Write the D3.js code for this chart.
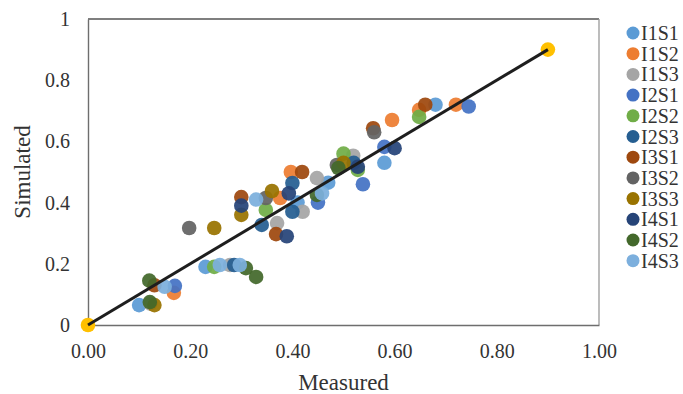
<!DOCTYPE html>
<html><head><meta charset="utf-8">
<script src="https://cdn.jsdelivr.net/npm/d3@7"></script>
<style>
html,body{margin:0;padding:0;background:#fff;}
svg{display:block;font-family:"Liberation Serif","Times New Roman",serif;}
</style></head>
<body>
<svg id="chart" width="683" height="394"></svg>
<script>
// ---- data ----
const seriesNames = ["I1S1","I1S2","I1S3","I2S1","I2S2","I2S3","I3S1","I3S2","I3S3","I4S1","I4S2","I4S3"];
const I1S1 = [[0.10,0.065],[0.23,0.19],[0.41,0.40],[0.47,0.465],[0.58,0.53],[0.68,0.72]];
const I1S2 = [[0.168,0.105],[0.376,0.415],[0.397,0.50],[0.595,0.67],[0.648,0.703],[0.72,0.72]];
const I1S3 = [[0.122,0.07],[0.278,0.196],[0.37,0.333],[0.42,0.37],[0.448,0.48],[0.519,0.553]];
const I2S1 = [[0.17,0.128],[0.45,0.40],[0.538,0.46],[0.58,0.582],[0.745,0.714]];
const I2S2 = [[0.247,0.19],[0.348,0.376],[0.50,0.56],[0.528,0.507],[0.648,0.68]];
const I2S3 = [[0.286,0.196],[0.34,0.327],[0.40,0.37],[0.40,0.464],[0.52,0.53]];
const I3S1 = [[0.13,0.13],[0.30,0.418],[0.368,0.297],[0.419,0.50],[0.558,0.643],[0.66,0.72]];
const I3S2 = [[0.198,0.317],[0.348,0.415],[0.487,0.523],[0.56,0.63]];
const I3S3 = [[0.13,0.065],[0.247,0.317],[0.30,0.36],[0.36,0.438],[0.50,0.53]];
const I4S1 = [[0.30,0.39],[0.389,0.29],[0.393,0.43],[0.528,0.517],[0.60,0.578]];
const I4S2 = [[0.12,0.145],[0.121,0.075],[0.309,0.186],[0.329,0.157],[0.448,0.425],[0.49,0.513]];
const I4S3 = [[0.15,0.125],[0.258,0.196],[0.297,0.196],[0.329,0.41],[0.458,0.43]];
const seriesValues = [I1S1,I1S2,I1S3,I2S1,I2S2,I2S3,I3S1,I3S2,I3S3,I4S1,I4S2,I4S3];
const oneToOne = [[0,0],[0.9,0.9]];
const xTicks = [0,0.2,0.4,0.6,0.8,1.0];
const xTickLabels = ["0.00","0.20","0.40","0.60","0.80","1.00"];
const yTicks = [0,0.2,0.4,0.6,0.8,1.0];
const yTickLabels = ["0","0.2","0.4","0.6","0.8","1"];

// ---- styles ----
const palette = ["#5B9BD5","#ED7D31","#A5A5A5","#4472C4","#70AD47","#255E91","#9E480E","#636363","#997300","#264478","#43682B","#7CAFDD"];

const svg = d3.select("#chart");
const L=88, R=599, T=19, B=325;
const x = d3.scaleLinear().domain([0,1]).range([L,R]);
const y = d3.scaleLinear().domain([0,1]).range([B,T]);

// frame
svg.append("line").attr("x1",L).attr("x2",R).attr("y1",T).attr("y2",T).attr("stroke","#555").attr("stroke-width",1.3);
svg.append("line").attr("x1",R).attr("x2",R).attr("y1",T).attr("y2",B).attr("stroke","#999").attr("stroke-width",1.3);

// axes
const xAxis = svg.append("g").attr("transform",`translate(0,${B})`)
  .call(d3.axisBottom(x).tickValues(xTicks).tickSize(0).tickPadding(19).tickFormat((d,i)=>xTickLabels[i]));
const yAxis = svg.append("g").attr("transform",`translate(${L},0)`)
  .call(d3.axisLeft(y).tickValues(yTicks).tickSize(0).tickPadding(18).tickFormat((d,i)=>yTickLabels[i]));
[xAxis,yAxis].forEach(g=>{
  g.select(".domain").attr("stroke","#6e6e6e").attr("stroke-width",1.4);
  g.selectAll("text").attr("font-family","Liberation Serif").attr("font-size",20).attr("fill","#333");
});

// titles
svg.append("text").attr("x",(L+R)/2).attr("y",390).attr("text-anchor","middle")
  .attr("font-size",23).attr("fill","#333").text("Measured");
svg.append("text").attr("transform",`translate(30,${(T+B)/2}) rotate(-90)`).attr("text-anchor","middle")
  .attr("font-size",23).attr("fill","#333").text("Simulated");

// points
seriesValues.forEach((vals,i)=>{
  svg.append("g").selectAll("circle").data(vals).join("circle")
    .attr("cx",d=>x(d[0])).attr("cy",d=>y(d[1])).attr("r",7.3)
    .attr("fill",palette[i]).attr("fill-opacity",0.93);
});

// 1:1 line with yellow end markers
svg.append("g").selectAll("circle").data(oneToOne).join("circle")
  .attr("cx",d=>x(d[0])).attr("cy",d=>y(d[1])).attr("r",7.3).attr("fill","#FFC000");
svg.append("path").datum(oneToOne)
  .attr("d",d3.line().x(d=>x(d[0])).y(d=>y(d[1])))
  .attr("stroke","#1e1e1e").attr("stroke-width",3).attr("fill","none");

// legend
const lg = svg.append("g");
seriesNames.forEach((n,i)=>{
  const cy = 33 + i*20.7;
  lg.append("circle").attr("cx",633).attr("cy",cy).attr("r",6.5).attr("fill",palette[i]);
  lg.append("text").attr("x",641).attr("y",cy+7).attr("font-size",20).attr("fill","#333").text(n);
});
</script>
</body></html>
